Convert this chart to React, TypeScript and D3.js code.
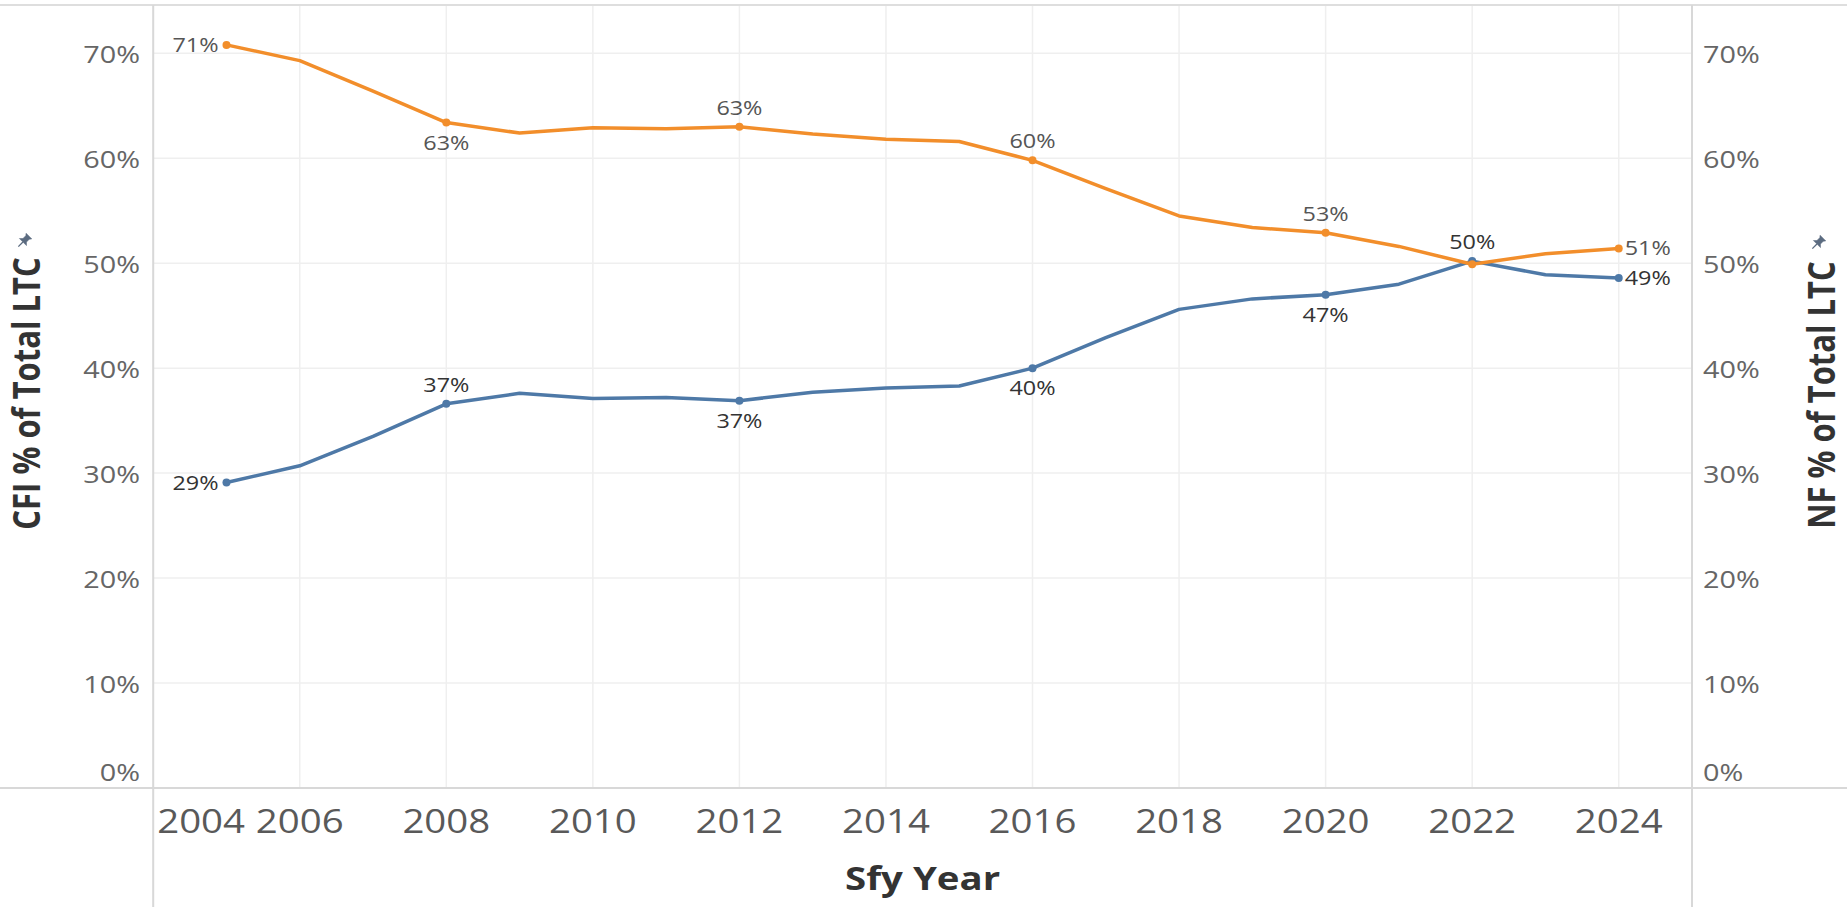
import React, { useEffect } from "react";
import * as d3 from "d3";

// ---- data ----
const YEARS = [2005, 2006, 2007, 2008, 2009, 2010, 2011, 2012, 2013, 2014, 2015, 2016, 2017, 2018, 2019, 2020, 2021, 2022, 2023, 2024];
const NF_SHARE = [0.708, 0.693, 0.664, 0.634, 0.624, 0.629, 0.628, 0.630, 0.623, 0.618, 0.616, 0.598, 0.571, 0.545, 0.534, 0.529, 0.516, 0.499, 0.509, 0.514];
const CFI_SHARE = [0.291, 0.307, 0.335, 0.366, 0.376, 0.371, 0.372, 0.369, 0.377, 0.381, 0.383, 0.400, 0.429, 0.456, 0.466, 0.470, 0.480, 0.502, 0.489, 0.486];
const Y_TICKS = [0, 0.1, 0.2, 0.3, 0.4, 0.5, 0.6, 0.7];
const X_TICKS = [2004, 2006, 2008, 2010, 2012, 2014, 2016, 2018, 2020, 2022, 2024];
const NF_LABELS: [number, string][] = [[2005, "left"], [2008, "below"], [2012, "above"], [2016, "above"], [2020, "above"], [2024, "right"]];
const CFI_LABELS: [number, string][] = [[2005, "left"], [2008, "above"], [2012, "below"], [2016, "below"], [2020, "below"], [2022, "above"], [2024, "right"]];
const X_TITLE = "Sfy Year";
const Y_LEFT_TITLE = "CFI % of Total LTC";
const Y_RIGHT_TITLE = "NF % of Total LTC";

const W = 1847;
const H = 907;
const SX = 1.2;
const FONT = "'Open Sans', 'Noto Sans', sans-serif";
const ORANGE = "#f28e2b";
const BLUE = "#4e79a7";

function T(props: any) {
  const { x, y, anchor = "middle", size, weight = 400, fill, rotate = false, children } = props;
  return (
    <text
      transform={`translate(${x},${y}) scale(${SX},1)${rotate ? " rotate(-90)" : ""}`}
      textAnchor={anchor}
      fontSize={size}
      fontWeight={weight}
      fill={fill}
      fontFamily={FONT}
    >
      {children}
    </text>
  );
}

function Pin({ cx, cy }: { cx: number; cy: number }) {
  return (
    <g transform={`translate(${cx},${cy}) rotate(45)`} fill="#5b6b80" stroke="#5b6b80">
      <path d="M-4,-7 L4,-7 L2.5,-5 L2.5,-1 L5,1.5 L-5,1.5 L-2.5,-1 L-2.5,-5 Z" strokeWidth={0.5} />
      <path d="M0,1.5 L0,8" strokeWidth={1.3} fill="none" />
    </g>
  );
}

export default function App() {
  useEffect(() => {
    document.body.style.margin = "0";
    document.body.style.overflow = "hidden";
  }, []);

  const left = 153.2, right = 1692, top = 5, bottom = 788;
  const x = d3.scaleLinear().domain([2004, 2025]).range([left, right]);
  const y = d3.scaleLinear().domain([0, 0.746]).range([bottom, top]);

  const nf = YEARS.map((yr, i) => ({ yr, v: NF_SHARE[i] }));
  const cfi = YEARS.map((yr, i) => ({ yr, v: CFI_SHARE[i] }));
  const line = d3.line<{ yr: number; v: number }>().x(d => x(d.yr)).y(d => y(d.v));

  const labelFor = (data: { yr: number; v: number }[], spec: [number, string][], color: string, key: string) =>
    spec.map(([yr, pos]) => {
      const d = data.find(p => p.yr === yr)!;
      const px = x(d.yr), py = y(d.v);
      const size = 19.5;
      const half = size * 0.357;
      const txt = `${Math.round(d.v * 100)}%`;
      let lx = px, ly = py, anchor = "middle";
      if (pos === "left") { lx = px - 8; anchor = "end"; ly = py + half; }
      else if (pos === "right") { lx = px + 6; anchor = "start"; ly = py + half; }
      else if (pos === "above") { ly = py - 19 + half; }
      else { ly = py + 20 + half; }
      return <T key={key + yr} x={lx} y={ly} anchor={anchor} size={size} fill={color}>{txt}</T>;
    });

  return (
    <svg width={W} height={H} style={{ position: "absolute", left: 0, top: 0, background: "#fff" }}>
      <rect x={0} y={0} width={W} height={H} fill="#fff" />
      {/* gridlines */}
      {Y_TICKS.filter(t => t > 0).map(t => (
        <line key={"gy" + t} x1={left} x2={right} y1={y(t)} y2={y(t)} stroke="#efefef" strokeWidth={1.5} />
      ))}
      {X_TICKS.filter(t => t > 2004).map(t => (
        <line key={"gx" + t} x1={x(t)} x2={x(t)} y1={top} y2={bottom} stroke="#efefef" strokeWidth={1.5} />
      ))}
      {/* frame / axes */}
      <line x1={0} x2={W} y1={top} y2={top} stroke="#dedede" strokeWidth={2} />
      <line x1={0} x2={W} y1={bottom} y2={bottom} stroke="#d8d8d8" strokeWidth={2} />
      <line x1={left} x2={left} y1={top} y2={H} stroke="#d8d8d8" strokeWidth={2} />
      <line x1={right} x2={right} y1={top} y2={H} stroke="#d8d8d8" strokeWidth={2} />

      {/* y tick labels */}
      {Y_TICKS.map(t => {
        const cy = t === 0 ? y(t) - 16 : y(t) + 1.5;
        const base = cy + 24 * 0.357;
        const lab = `${Math.round(t * 100)}%`;
        return (
          <g key={"yt" + t}>
            <T x={140} y={base} anchor="end" size={24} fill="#666">{lab}</T>
            <T x={1703} y={base} anchor="start" size={24} fill="#666">{lab}</T>
          </g>
        );
      })}

      {/* x tick labels */}
      {X_TICKS.map((t, i) => (
        i === 0
          ? <T key={"xt" + t} x={x(t) + 4} y={833} anchor="start" size={32} fill="#595959">{t}</T>
          : <T key={"xt" + t} x={x(t)} y={833} anchor="middle" size={32} fill="#595959">{t}</T>
      ))}

      {/* axis titles */}
      <T x={(left + right) / 2} y={889.5} size={32} weight={700} fill="#333">{X_TITLE}</T>
      <T x={40} y={393.5} size={31} weight={700} fill="#333" rotate>{Y_LEFT_TITLE}</T>
      <T x={1835} y={395} size={31} weight={700} fill="#333" rotate>{Y_RIGHT_TITLE}</T>
      <Pin cx={24} cy={241} />
      <Pin cx={1818} cy={243} />

      {/* lines */}
      <path d={line(cfi) || ""} fill="none" stroke={BLUE} strokeWidth={3.5} strokeLinejoin="round" />
      {[2005, 2008, 2012, 2016, 2020, 2022, 2024].map(yr => {
        const d = cfi.find(p => p.yr === yr)!;
        return <circle key={"cb" + yr} cx={x(d.yr)} cy={y(d.v)} r={4} fill={BLUE} />;
      })}
      <path d={line(nf) || ""} fill="none" stroke={ORANGE} strokeWidth={3.5} strokeLinejoin="round" />
      {[2005, 2008, 2012, 2016, 2020, 2022, 2024].map(yr => {
        const d = nf.find(p => p.yr === yr)!;
        return <circle key={"co" + yr} cx={x(d.yr)} cy={y(d.v)} r={4} fill={ORANGE} />;
      })}

      {/* data labels */}
      {labelFor(nf, NF_LABELS, "#555", "nl")}
      {labelFor(cfi, CFI_LABELS, "#333", "cl")}
    </svg>
  );
}
